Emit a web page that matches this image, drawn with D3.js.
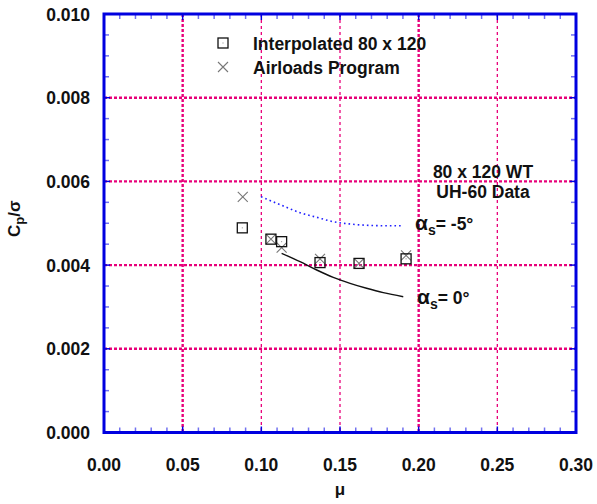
<!DOCTYPE html>
<html>
<head>
<meta charset="utf-8">
<script src="https://cdn.jsdelivr.net/npm/d3@7"></script>
<style>
  html, body { margin: 0; padding: 0; background: #fff; }
  svg { display: block; font-family: "Liberation Sans", Arial, sans-serif; font-weight: bold; }
</style>
</head>
<body>
<svg id="chart" width="597" height="504"></svg>
<script>
// Advance ratio values and Cp/sigma for the two data sets
const interpMu = [0.0879, 0.1061, 0.1129, 0.1373, 0.1621, 0.1920];
const interpCp = [0.00489, 0.00462, 0.00456, 0.00406, 0.00404, 0.00415];
const airloadsMu = [0.0882, 0.1061, 0.1129, 0.1373, 0.1621, 0.1920];
const airloadsCp = [0.00563, 0.00462, 0.00442, 0.00415, 0.00404, 0.00423];

// Trend curves for shaft angles of -5 and 0 degrees
const curveM5Mu = [0.0998, 0.1140, 0.1246, 0.1352, 0.1457, 0.1564, 0.1669, 0.1775, 0.1902];
const curveM5Cp = [0.005634, 0.005412, 0.005252, 0.005142, 0.005037, 0.004982, 0.004951, 0.004941, 0.004941];
const curve0Mu = [0.1129, 0.1246, 0.1352, 0.1457, 0.1564, 0.1669, 0.1775, 0.1902];
const curve0Cp = [0.004282, 0.004081, 0.003883, 0.003708, 0.003565, 0.003446, 0.003341, 0.003245];

const xTicks = [0.00, 0.05, 0.10, 0.15, 0.20, 0.25, 0.30];
const yTicks = [0.000, 0.002, 0.004, 0.006, 0.008, 0.010];
const legendLabels = ["Interpolated 80 x 120", "Airloads Program"];

const svg = d3.select("#chart");
const plotL = 104, plotR = 576, plotT = 14, plotB = 432.5;
const fs = 17.5;

const x = d3.scaleLinear().domain([0, 0.30]).range([plotL, plotR]);
const y = d3.scaleLinear().domain([0, 0.010]).range([plotB, plotT]);

const pink = "#e8007a";
const blue = "#0000e0";

// Grid lines
const grid = svg.append("g");
yTicks.slice(1, -1).forEach(v => {
  grid.append("line")
    .attr("x1", plotL).attr("x2", plotR).attr("y1", y(v)).attr("y2", y(v))
    .attr("stroke", pink).attr("stroke-width", 2.4).attr("stroke-dasharray", "3,2");
});
xTicks.slice(1, -1).forEach(v => {
  const thick = (v === 0.05 || v === 0.20);
  grid.append("line")
    .attr("x1", x(v)).attr("x2", x(v)).attr("y1", plotT).attr("y2", plotB)
    .attr("stroke", pink).attr("stroke-width", thick ? 2.4 : 1.3)
    .attr("stroke-dasharray", thick ? "3,2" : "3,3");
});

// Minor and major ticks on all four sides, pointing inward
const ticks = svg.append("g");
const xMinor = d3.range(0, 31).map(i => i * 0.01);
const yMinor = d3.range(0, 21).map(i => i * 0.0005);
xMinor.forEach((v, i) => {
  const major = i % 5 === 0;
  const len = major ? 6 : 5;
  const col = major ? blue : "#7070f0";
  ticks.append("line").attr("x1", x(v)).attr("x2", x(v)).attr("y1", plotB).attr("y2", plotB - len)
    .attr("stroke", col).attr("stroke-width", 1.5);
  ticks.append("line").attr("x1", x(v)).attr("x2", x(v)).attr("y1", plotT).attr("y2", plotT + len)
    .attr("stroke", col).attr("stroke-width", 1.5);
});
yMinor.forEach((v, i) => {
  const major = i % 4 === 0;
  const len = major ? 6 : 5;
  const col = major ? blue : "#7070f0";
  ticks.append("line").attr("x1", plotL).attr("x2", plotL + len).attr("y1", y(v)).attr("y2", y(v))
    .attr("stroke", col).attr("stroke-width", 1.5);
  ticks.append("line").attr("x1", plotR).attr("x2", plotR - len).attr("y1", y(v)).attr("y2", y(v))
    .attr("stroke", col).attr("stroke-width", 1.5);
});

// Frame
svg.append("rect")
  .attr("x", plotL).attr("y", plotT).attr("width", plotR - plotL).attr("height", plotB - plotT)
  .attr("fill", "none").attr("stroke", blue).attr("stroke-width", 3);

// Tick labels
svg.append("g").selectAll("text").data(xTicks).join("text")
  .attr("x", d => x(d)).attr("y", 471)
  .attr("text-anchor", "middle").attr("font-size", fs).attr("fill", "#111")
  .text(d => d3.format(".2f")(d));
svg.append("g").selectAll("text").data(yTicks).join("text")
  .attr("x", 90).attr("y", d => y(d) + 6.5)
  .attr("text-anchor", "end").attr("font-size", fs).attr("fill", "#111")
  .text(d => d3.format(".3f")(d));

// Axis titles
svg.append("text").attr("x", 340).attr("y", 495).attr("text-anchor", "middle")
  .attr("font-size", 17).attr("fill", "#111").text("μ");
const yt = svg.append("text").attr("transform", "translate(20,237) rotate(-90)")
  .attr("text-anchor", "start").attr("font-size", 17).attr("fill", "#111");
yt.append("tspan").text("C");
yt.append("tspan").attr("font-size", 13).attr("dy", 4).text("p");
yt.append("tspan").attr("dy", -4).text("/σ");

// Trend curves
const line = d3.line().x(d => x(d[0])).y(d => y(d[1])).curve(d3.curveMonotoneX);
svg.append("path").datum(d3.zip(curveM5Mu, curveM5Cp)).attr("d", line)
  .attr("fill", "none").attr("stroke", "#2020ff").attr("stroke-width", 1.6)
  .attr("stroke-dasharray", "1.6,3");
svg.append("path").datum(d3.zip(curve0Mu, curve0Cp)).attr("d", line)
  .attr("fill", "none").attr("stroke", "#111").attr("stroke-width", 1.4);

// Marker drawing helpers
function drawSquare(g, cx, cy) {
  g.append("rect").attr("x", cx - 5).attr("y", cy - 5).attr("width", 10).attr("height", 10)
    .attr("fill", "none").attr("stroke", "#111").attr("stroke-width", 1.3);
  g.append("rect").attr("x", cx - 0.5).attr("y", cy - 0.5).attr("width", 1).attr("height", 1)
    .attr("fill", "#888");
}
function drawCross(g, cx, cy) {
  g.append("path").attr("d", `M${cx - 5},${cy - 5}L${cx + 5},${cy + 5}M${cx - 5},${cy + 5}L${cx + 5},${cy - 5}`)
    .attr("stroke", "#777").attr("stroke-width", 1.1).attr("fill", "none");
}

const marks = svg.append("g");
d3.zip(airloadsMu, airloadsCp).forEach(d => drawCross(marks, x(d[0]), y(d[1])));
d3.zip(interpMu, interpCp).forEach(d => drawSquare(marks, x(d[0]), y(d[1])));

// Legend
const leg = svg.append("g");
drawSquare(leg, 223, 43);
drawCross(leg, 223, 67);
leg.selectAll("text").data(legendLabels).join("text")
  .attr("x", 253).attr("y", (d, i) => 49.5 + i * 24)
  .attr("font-size", fs).attr("fill", "#111").text(d => d);

// Annotations
svg.append("text").attr("x", 483).attr("y", 178).attr("text-anchor", "middle")
  .attr("font-size", fs).attr("fill", "#111").text("80 x 120 WT");
svg.append("text").attr("x", 483).attr("y", 198).attr("text-anchor", "middle")
  .attr("font-size", fs).attr("fill", "#111").text("UH-60 Data");

function alphaLabel(xp, yp, val) {
  const t = svg.append("text").attr("x", xp).attr("y", yp).attr("font-size", fs).attr("fill", "#111");
  t.append("tspan").attr("font-size", 21).text("α");
  t.append("tspan").attr("font-size", 14).attr("dy", 5).text("s");
  t.append("tspan").attr("dy", -5).text("= " + val + "°");
}
alphaLabel(415, 230, "-5");
alphaLabel(417, 304, "0");
</script>
</body>
</html>
